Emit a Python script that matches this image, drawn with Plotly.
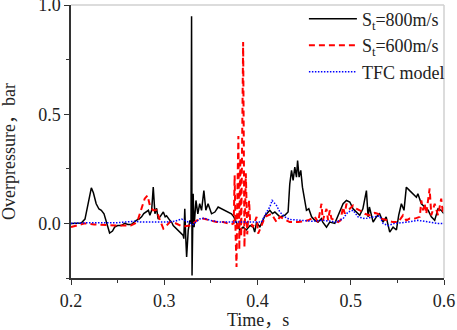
import plotly.graph_objects as go

# ---- data ----
black_t = [0.200, 0.205, 0.211, 0.215, 0.218, 0.2218, 0.224, 0.227, 0.230, 0.2325, 0.2354, 0.238, 0.2414, 0.2445,
           0.2468, 0.250, 0.254, 0.2575, 0.261, 0.2646, 0.268, 0.270, 0.273, 0.2757, 0.278, 0.281, 0.283, 0.2846,
           0.2865, 0.2882, 0.290, 0.2918, 0.2935, 0.2954, 0.2975, 0.299, 0.301, 0.3025, 0.306, 0.308, 0.3096,
           0.3132, 0.3168, 0.3203, 0.321, 0.322, 0.323, 0.324, 0.3257, 0.3275, 0.3287, 0.3293, 0.3298, 0.331,
           0.332, 0.334, 0.336, 0.338, 0.340, 0.3425, 0.3446, 0.347, 0.3507, 0.3543, 0.3578, 0.3614, 0.365,
           0.3686, 0.372, 0.3746, 0.3775, 0.381, 0.3846, 0.388, 0.392, 0.3954, 0.397, 0.399, 0.4025, 0.405,
           0.408, 0.4132, 0.416, 0.4186, 0.424, 0.4293, 0.4328, 0.4346, 0.4365, 0.4382, 0.440, 0.4418, 0.443,
           0.4446, 0.4464, 0.4482, 0.4507, 0.4525, 0.455, 0.458, 0.4614, 0.465, 0.4686, 0.470, 0.474, 0.4775,
           0.4829, 0.4882, 0.4918, 0.4954, 0.499, 0.5025, 0.506, 0.5096, 0.513, 0.5168, 0.5186, 0.520, 0.524,
           0.5275, 0.531, 0.5346, 0.538, 0.5418, 0.5454, 0.549, 0.5514, 0.5543, 0.5571, 0.5596, 0.5632, 0.5668,
           0.5704, 0.572, 0.5757, 0.5793, 0.583, 0.5864, 0.590, 0.5936, 0.597, 0.600]
black_p = [0.000, 0.000, 0.002, 0.020, 0.080, 0.163, 0.140, 0.090, 0.066, 0.060, 0.044, 0.000, -0.044, -0.035,
           -0.017, -0.010, -0.010, 0.000, -0.005, -0.005, 0.008, 0.014, 0.020, 0.030, 0.045, 0.052, 0.060, 0.037,
           0.060, 0.166, 0.044, 0.069, 0.020, 0.030, 0.045, 0.052, 0.030, 0.035, 0.014, 0.005, -0.010,
           -0.024, -0.040, -0.055, -0.070, 0.067, -0.060, -0.154, -0.032, 0.014, 0.000, 0.948, -0.238, 0.136,
           -0.017, 0.105, 0.044, 0.090, 0.060, 0.150, 0.060, 0.090, 0.044, 0.052, 0.075, 0.067, 0.060,
           0.052, 0.044, 0.030, 0.000, -0.030, -0.017, -0.030, -0.010, -0.017, -0.040, 0.006, -0.017, 0.010,
           0.035, 0.060, 0.045, 0.052, 0.030, 0.037, 0.052, 0.180, 0.243, 0.197, 0.258, 0.212, 0.288,
           0.212, 0.243, 0.166, 0.105, 0.060, 0.067, 0.030, 0.014, 0.006, 0.022, 0.006, -0.017, 0.006,
           0.000, 0.052, 0.090, 0.105, 0.098, 0.067, 0.052, 0.037, 0.067, 0.150, 0.030, 0.075, 0.006,
           0.030, 0.044, 0.006, 0.030, -0.040, -0.017, -0.030, 0.037, 0.090, 0.060, 0.166, 0.150, 0.136,
           0.120, 0.136, 0.090, 0.075, 0.060, 0.030, 0.014, 0.067, 0.060, 0.044]

red_t = [0.200, 0.207, 0.2146, 0.225, 0.235, 0.250, 0.264, 0.2686, 0.272, 0.2757, 0.279, 0.282, 0.2846, 0.288,
         0.2918, 0.2954, 0.299, 0.3025, 0.306, 0.3096, 0.313, 0.3186, 0.322, 0.3275, 0.335, 0.3418, 0.349,
         0.356, 0.3632, 0.3686, 0.372, 0.3745, 0.3755, 0.3765, 0.3775, 0.3785, 0.3795, 0.3805, 0.3815, 0.3825,
         0.3846, 0.386, 0.3875, 0.389, 0.391, 0.392, 0.395, 0.399, 0.4007, 0.4043, 0.408, 0.4114, 0.415,
         0.4204, 0.424, 0.4275, 0.431, 0.4346, 0.4436, 0.4543, 0.4614, 0.465, 0.4686, 0.470, 0.474, 0.4757,
         0.4775, 0.4793, 0.483, 0.4864, 0.489, 0.4918, 0.4936, 0.4954, 0.499, 0.5025, 0.506, 0.5096, 0.515,
         0.520, 0.5257, 0.5293, 0.533, 0.540, 0.5454, 0.551, 0.556, 0.5596, 0.5632, 0.5686, 0.574, 0.5757,
         0.5775, 0.5793, 0.581, 0.5846, 0.5864, 0.590, 0.5936, 0.597, 0.599, 0.600]
red_p = [-0.017, -0.010, 0.000, -0.005, -0.008, -0.010, -0.010, 0.000, 0.020, 0.067, 0.113, 0.128, 0.082, 0.060,
         0.060, 0.014, -0.024, -0.010, 0.006, 0.006, 0.000, -0.013, -0.013, -0.010, 0.014, 0.022, 0.014,
         0.006, 0.006, 0.000, -0.005, 0.000, 0.220, -0.050, -0.200, 0.150, 0.400, -0.120, 0.300, -0.060,
         0.830, -0.110, 0.230, -0.050, 0.105, 0.014, -0.017, 0.030, -0.047, -0.010, 0.030, 0.037, 0.044,
         0.006, 0.030, 0.022, 0.014, 0.006, 0.006, 0.014, 0.030, 0.006, 0.090, 0.014, 0.067, 0.014,
         0.060, 0.022, 0.014, 0.006, 0.014, 0.075, 0.044, 0.090, 0.067, 0.082, 0.067, 0.060, 0.044,
         0.037, 0.048, 0.044, 0.022, 0.014, 0.006, 0.006, 0.037, 0.014, 0.022, 0.022, 0.030, 0.105,
         0.060, 0.090, 0.044, 0.160, 0.037, 0.090, 0.037, 0.113, 0.044, 0.075]

blue_t = [0.200, 0.218, 0.250, 0.268, 0.2757, 0.290, 0.3007, 0.3114, 0.3186, 0.3257, 0.331, 0.338, 0.3429,
          0.349, 0.3596, 0.3757, 0.392, 0.4043, 0.4097, 0.4132, 0.4157, 0.4204, 0.424, 0.4293, 0.4346, 0.4436,
          0.458, 0.4704, 0.4775, 0.4846, 0.4918, 0.497, 0.5025, 0.5078, 0.515, 0.524, 0.531, 0.5346, 0.540,
          0.5471, 0.5543, 0.5614, 0.572, 0.583, 0.5936, 0.600]
blue_p = [0.000, 0.003, 0.003, 0.010, 0.006, 0.006, 0.006, 0.010, 0.020, 0.006, -0.005, 0.020, 0.024,
          0.014, 0.006, 0.006, 0.006, 0.006, 0.052, 0.075, 0.105, 0.082, 0.052, 0.030, 0.018, 0.014,
          0.010, 0.014, 0.010, 0.006, 0.022, 0.052, 0.060, 0.030, 0.022, 0.030, 0.034, 0.000, -0.010,
          0.000, 0.002, 0.006, 0.014, 0.006, 0.000, 0.000]

series_names = ["S<sub>t</sub>=800m/s", "S<sub>t</sub>=600m/s", "TFC model"]
x_ticks = [0.2, 0.3, 0.4, 0.5, 0.6]
y_ticks = [0.0, 0.5, 1.0]

FONT = "Liberation Serif, Noto Sans CJK SC, serif"

fig = go.Figure()
fig.add_trace(go.Scatter(x=black_t, y=black_p, mode="lines", name=series_names[0], legendgroup="a",
                         line=dict(color="black", width=1.5)))
fig.add_trace(go.Scatter(x=red_t, y=red_p, mode="lines", name=series_names[1], legendgroup="b",
                         line=dict(color="#ff0000", width=2, dash="6px,4px")))
fig.add_trace(go.Scatter(x=blue_t, y=blue_p, mode="lines", name=series_names[2], legendgroup="c",
                         line=dict(color="#0000ff", width=1.5, dash="1.5px,1.5px")))

axis_common = dict(showgrid=False, zeroline=False, showline=True, linecolor="#333333", linewidth=1.5,
                   ticks="outside", ticklen=5, tickwidth=1.2, tickcolor="#333333",
                   tickfont=dict(family=FONT, size=18, color="#222222"), tickformat=".1f",
                   ticklabeloverflow="allow")

fig.update_layout(
    width=457, height=330,
    margin=dict(l=71, r=13, t=5, b=52, autoexpand=False),
    paper_bgcolor="white", plot_bgcolor="white",
    font=dict(family=FONT, size=18, color="#222222"),
    xaxis=dict(range=[0.2, 0.6], tickvals=x_ticks, ticklabelstandoff=1,
               minor=dict(ticks="outside", ticklen=3, dtick=0.05, tick0=0.2, tickcolor="#333333"),
               **axis_common),
    yaxis=dict(range=[-0.25, 1.0], tickvals=y_ticks,
               minor=dict(ticks="outside", ticklen=3, dtick=0.25, tick0=0, tickcolor="#333333"),
               **axis_common),
    legend=dict(xref="container", yref="container", x=0.665, y=0.998, xanchor="left", yanchor="top",
                bgcolor="rgba(255,255,255,0)",
                font=dict(family=FONT, size=18, color="#222222"), itemwidth=48, tracegroupgap=0),
    showlegend=True,
    shapes=[
        dict(type="line", xref="paper", yref="paper", x0=0, x1=1, y0=1, y1=1,
             line=dict(color="#d0d0d0", width=1.5)),
        dict(type="line", xref="paper", yref="paper", x0=1, x1=1, y0=0, y1=1,
             line=dict(color="#d0d0d0", width=1.5)),
    ],
    annotations=[
        dict(text="Time，s", xref="paper", yref="paper", x=0.5, y=0, yanchor="middle",
             yshift=-42, showarrow=False, font=dict(family=FONT, size=18, color="#222222")),
        dict(text="Overpressure，bar", xref="paper", yref="paper", x=0, y=0.4615, xanchor="center",
             yanchor="middle", xshift=-62, textangle=-90, showarrow=False,
             font=dict(family=FONT, size=18, color="#222222")),
    ],
)

fig.write_html("out.html", config={"displayModeBar": False},
               post_script="document.body.style.margin='0';document.body.style.overflow='hidden';")
